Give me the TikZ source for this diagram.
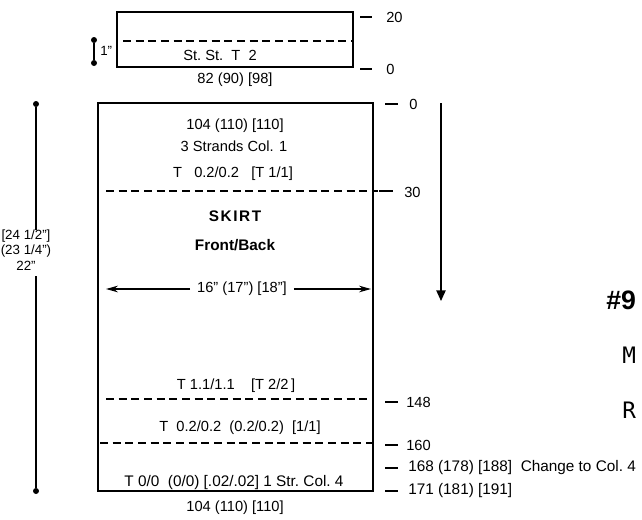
\documentclass[tikz,border=0pt]{standalone}
\usepackage{fontspec}
\setmainfont{Liberation Sans}
\newfontfamily\pagefont{DejaVu Sans Mono}
\usetikzlibrary{arrows.meta}

\begin{document}
\begin{tikzpicture}[x=0.75pt,y=-0.75pt, every node/.style={font=\fontsize{11}{12}\selectfont,inner sep=0pt},
  outline/.style={line width=1.1pt},
  rowline/.style={line width=0.9pt,dash pattern=on 6pt off 3.5pt},
  tick/.style={line width=1.4pt},
  dimdot/.style={circle,fill,inner sep=0pt,minimum size=4.5pt},
  lbl/.style={anchor=west},
  bold/.style={font=\fontsize{11.5}{13}\selectfont\bfseries}]
\useasboundingbox (0,0) rectangle (642,519);
% band (top piece)
\draw[outline] (117,12) rectangle (353,67);
\draw[rowline] (123,41) -- (352,41);
\node (bandst) at (220,55) {St.\ St.\ \ T\ \ 2};
\node (bandw) at (235,80) {82 (90) [98]};
\draw[tick] (360,17) -- (372,17); \node[lbl] (r20) at (386,17) {20};
\draw[tick] (360,69) -- (372,69); \node[lbl] (r0a) at (386,69) {0};
\node[dimdot] (ba) at (94,40) {}; \node[dimdot] (bb) at (94,63) {};
\draw[line width=1.8pt] (ba) -- (bb);
\node[lbl,font=\fontsize{10}{11}\selectfont] (binch) at (100,51) {1"};
% skirt
\draw[outline] (98,103) rectangle (373,491);
\node (top1) at (235,126) {104 (110) [110]};
\node (top2) at (234,146) {3 Strands Col. 1};
\node (top3) at (233,174) {T\ \ \ 0.2/0.2\ \ \ [T 1/1]};
\draw[rowline] (106,191) -- (378,191);
\draw[tick] (379,191) -- (393,191); \node[lbl] (r30) at (404,192) {30};
\draw[tick] (385,104) -- (398,104); \node[lbl] (r0b) at (409,104) {0};
\node[bold] (title) at (235,216) {S\kern1.2pt K\kern1.2pt I\kern1.2pt R\kern1.2pt T};
\node[bold] (sub) at (235,245) {Front/Back};
\node[inner sep=5pt] (wd) at (242,289) {16" (17") [18"]};
\coordinate (wl) at (106,289); \coordinate (wr) at (371,289);
\draw[line width=0.9pt,-{Stealth[length=9pt,width=5pt]}] (wd) -- (wl);
\draw[line width=0.9pt,-{Stealth[length=9pt,width=5pt]}] (wd) -- (wr);
\coordinate (dtop) at (441,103); \coordinate (dbot) at (441,301);
\draw[line width=1pt,-{Triangle[length=8pt,width=7pt]}] (dtop) -- (dbot);
% height
\node[dimdot] (ha) at (36,104) {}; \node[dimdot] (hb) at (36,491) {};
\node[align=center,font=\fontsize{10}{11.5}\selectfont] (ht) at (26,250) {[24 1/2"]\\(23 1/4")\\22"};
\draw[line width=1.1pt] (ha) -- (ha |- ht.north) ++(0,-4);
\draw[line width=1.1pt] (hb) -- ([yshift=-4pt]hb |- ht.south);
% lower rows
\node (low1) at (236,386) {T 1.1/1.1\ \ \ \ [T 2/2\,]};
\draw[rowline] (106,399) -- (373,399);
\draw[tick] (385,402) -- (398,402); \node[lbl] (r148) at (406,402) {148};
\node (low2) at (240,428) {T\ \ 0.2/0.2\ \ (0.2/0.2)\ \ [1/1]};
\draw[rowline] (100,443) -- (373,443);
\draw[tick] (385,445) -- (398,445); \node[lbl] (r160) at (406,445) {160};
\node[font=\fontsize{11.5}{12}\selectfont] (low3) at (234,483) {T 0/0\ \ (0/0) [.02/.02] 1 Str.\ Col.\ 4};
\draw[tick] (385,468) -- (398,468); \node[lbl,font=\fontsize{11.5}{12}\selectfont] (r168) at (408,468) {168 (178) [188]\ \ Change to Col.\ 4};
\draw[tick] (385,491) -- (398,491); \node[lbl,font=\fontsize{11.5}{12}\selectfont] (r171) at (408,491) {171 (181) [191]};
\node (botw) at (235,508) {104 (110) [110]};
% next page edge
\node[lbl,font=\fontsize{20}{20}\selectfont\bfseries] (pnum) at (606,300) {\#9};
\node[lbl,font=\pagefont\fontsize{17}{17}\selectfont] (pm) at (622,355) {M};
\node[lbl,font=\pagefont\fontsize{17}{17}\selectfont] (pr) at (622,410) {R};
\end{tikzpicture}
\end{document}
